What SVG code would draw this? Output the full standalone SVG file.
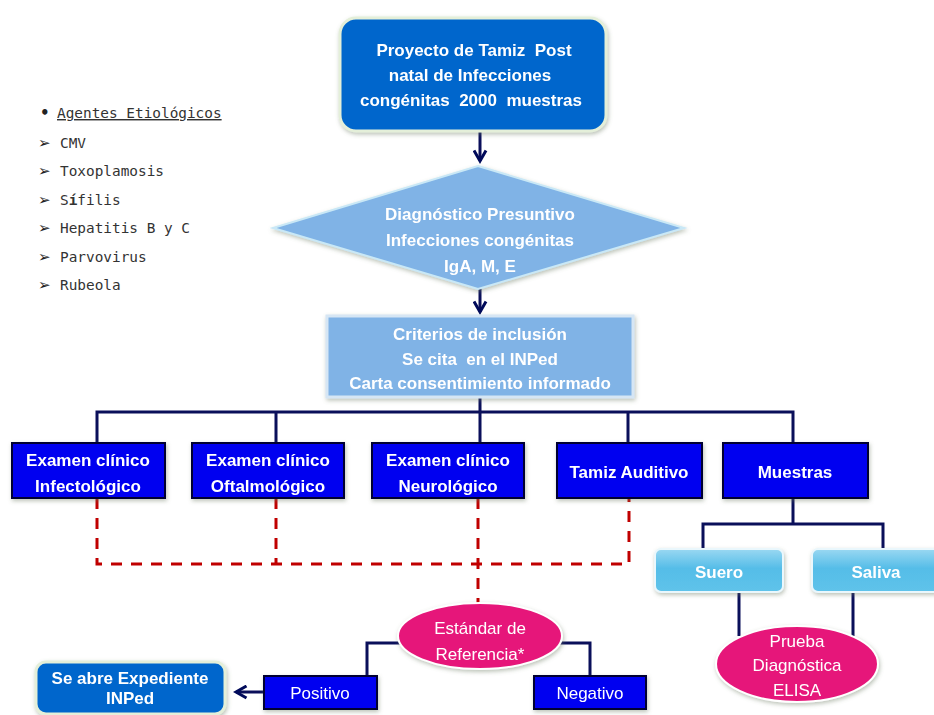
<svg xmlns="http://www.w3.org/2000/svg" width="934" height="715" viewBox="0 0 934 715">
<defs>
  <filter id="sh" x="-10%" y="-20%" width="120%" height="140%">
    <feGaussianBlur in="SourceAlpha" stdDeviation="2"/>
    <feOffset dx="1" dy="2" result="b"/>
    <feFlood flood-color="#6a7a60" flood-opacity="0.45"/>
    <feComposite in2="b" operator="in"/>
    <feMerge><feMergeNode/><feMergeNode in="SourceGraphic"/></feMerge>
  </filter>
  <linearGradient id="lb" x1="0" y1="0" x2="0" y2="1">
    <stop offset="0" stop-color="#9ad8f2"/>
    <stop offset="0.45" stop-color="#55bde8"/>
    <stop offset="1" stop-color="#5fc3ea"/>
  </linearGradient>
  <marker id="ah" viewBox="0 0 10 10" refX="8" refY="5" markerWidth="5" markerHeight="5" orient="auto" markerUnits="strokeWidth">
    <path d="M1,1 L8,5 L1,9" fill="none" stroke="#000a5a" stroke-width="2"/>
  </marker>
</defs>
<style>
  .bt{font-family:"Liberation Sans",Arial,sans-serif;font-weight:bold;font-size:17px;fill:#fff;text-anchor:middle;white-space:pre}
  .rt{font-family:"Liberation Sans",Arial,sans-serif;font-size:17px;fill:#fff;text-anchor:middle}
  .mono{font-family:"DejaVu Sans Mono","Liberation Mono",monospace;font-size:14.4px;fill:#333;white-space:pre}
  .sym{font-family:"DejaVu Sans",sans-serif;font-size:15px;font-weight:bold;fill:#222}
  .con{fill:none;stroke:#0a0f5a;stroke-width:3}
  .dash{fill:none;stroke:#c00000;stroke-width:3;stroke-dasharray:11 9}
  .blue{fill:#0000f0;stroke:#000033;stroke-width:2}
  .pink{fill:#e6197a;stroke:#fff;stroke-width:2}
</style>

<g id="legend">
  <text class="sym" x="40" y="118">•</text>
  <text class="mono" x="57" y="118" text-decoration="underline">Agentes Etiológicos</text>
  <text class="sym" x="38" y="148">➢</text><text class="mono" x="60" y="148">CMV</text>
  <text class="sym" x="38" y="176">➢</text><text class="mono" x="60" y="176">Toxoplamosis</text>
  <text class="sym" x="38" y="205">➢</text><text class="mono" x="60" y="205">S<tspan font-weight="bold">í</tspan>filis</text>
  <text class="sym" x="38" y="233">➢</text><text class="mono" x="60" y="233">Hepatitis B y C</text>
  <text class="sym" x="38" y="262">➢</text><text class="mono" x="60" y="262">Parvovirus</text>
  <text class="sym" x="38" y="290">➢</text><text class="mono" x="60" y="290">Rubeola</text>
</g>

<g id="connectors">
  <line class="con" x1="480" y1="131" x2="480" y2="161" marker-end="url(#ah)"/>
  <line class="con" x1="480" y1="288" x2="480" y2="312" marker-end="url(#ah)"/>
  <path class="con" d="M480,397 V412 M97,443 V412 H793 V443 M276,412 V443 M480,412 V443 M628,412 V443"/>
  <path class="con" d="M793,498 V524 M703,549 V524 H883 V549"/>
  <path class="con" d="M739,592 V636 M853,592 V636"/>
  <path class="con" d="M400,643 H367 V676 M560,643 H590 V676"/>
  <line class="con" x1="264" y1="692" x2="236" y2="692" marker-end="url(#ah)"/>
  <path class="dash" d="M97,498 V564 H629 V498 M276,498 V564 M478,498 V604"/>
</g>

<g id="n-proyecto" filter="url(#sh)">
  <rect x="340" y="18" width="266" height="113" rx="16" fill="#0066cc" stroke="#e4efd9" stroke-width="3"/>
  <text class="bt" x="474" y="56" xml:space="preserve">Proyecto de Tamiz  Post</text>
  <text class="bt" x="470" y="81">natal de Infecciones</text>
  <text class="bt" x="471" y="106" xml:space="preserve">congénitas  2000  muestras</text>
</g>

<g id="n-diagnostico" filter="url(#sh)">
  <polygon points="478,166 684,228 478,289 273,228" fill="#80b3e6" stroke="#c9e8f6" stroke-width="2"/>
  <text class="bt" x="480" y="220">Diagnóstico Presuntivo</text>
  <text class="bt" x="480" y="246">Infecciones congénitas</text>
  <text class="bt" x="480" y="272">IgA, M, E</text>
</g>

<g id="n-criterios" filter="url(#sh)">
  <rect x="327" y="316" width="306" height="81" fill="#80b3e6" stroke="#d6e6f4" stroke-width="3"/>
  <text class="bt" x="480" y="340">Criterios de inclusión</text>
  <text class="bt" x="480" y="365" xml:space="preserve">Se cita  en el INPed</text>
  <text class="bt" x="480" y="389">Carta consentimiento informado</text>
</g>

<g id="n-infecto" filter="url(#sh)">
  <rect class="blue" x="12" y="443" width="153" height="55"/>
  <text class="bt" x="88" y="466">Examen clínico</text>
  <text class="bt" x="88" y="492">Infectológico</text>
</g>
<g id="n-oftalmo" filter="url(#sh)">
  <rect class="blue" x="192" y="443" width="152" height="55"/>
  <text class="bt" x="268" y="466">Examen clínico</text>
  <text class="bt" x="268" y="492">Oftalmológico</text>
</g>
<g id="n-neuro" filter="url(#sh)">
  <rect class="blue" x="372" y="443" width="152" height="55"/>
  <text class="bt" x="448" y="466">Examen clínico</text>
  <text class="bt" x="448" y="492">Neurológico</text>
</g>
<g id="n-tamiz" filter="url(#sh)">
  <rect class="blue" x="557" y="443" width="145" height="55"/>
  <text class="bt" x="629" y="478">Tamiz Auditivo</text>
</g>
<g id="n-muestras" filter="url(#sh)">
  <rect class="blue" x="723" y="443" width="145" height="55"/>
  <text class="bt" x="795" y="478">Muestras</text>
</g>

<g id="n-suero" filter="url(#sh)">
  <rect x="655" y="549" width="128" height="43" rx="6" fill="url(#lb)" stroke="#eaf7fc" stroke-width="2"/>
  <text class="bt" x="719" y="578">Suero</text>
</g>
<g id="n-saliva" filter="url(#sh)">
  <rect x="812" y="549" width="128" height="43" rx="6" fill="url(#lb)" stroke="#eaf7fc" stroke-width="2"/>
  <text class="bt" x="876" y="578">Saliva</text>
</g>

<g id="n-elisa" filter="url(#sh)">
  <ellipse class="pink" cx="797" cy="664" rx="81" ry="38"/>
  <text class="rt" x="797" y="647">Prueba</text>
  <text class="rt" x="797" y="671">Diagnóstica</text>
  <text class="rt" x="797" y="696">ELISA</text>
</g>

<g id="n-estandar" filter="url(#sh)">
  <ellipse class="pink" cx="480" cy="636" rx="82" ry="33"/>
  <text class="rt" x="480" y="634">Estándar de</text>
  <text class="rt" x="480" y="660">Referencia*</text>
</g>

<g id="n-positivo" filter="url(#sh)">
  <rect class="blue" x="264" y="676" width="113" height="33"/>
  <text class="rt" x="320" y="699">Positivo</text>
</g>
<g id="n-negativo" filter="url(#sh)">
  <rect class="blue" x="534" y="676" width="112" height="33"/>
  <text class="rt" x="590" y="699">Negativo</text>
</g>

<g id="n-expediente" filter="url(#sh)">
  <rect x="36" y="662" width="189" height="52" rx="10" fill="#0066cc" stroke="#e4efd9" stroke-width="3"/>
  <text class="bt" x="130" y="684" font-size="14">Se abre Expediente</text>
  <text class="bt" x="130" y="704" font-size="14">INPed</text>
</g>
</svg>
